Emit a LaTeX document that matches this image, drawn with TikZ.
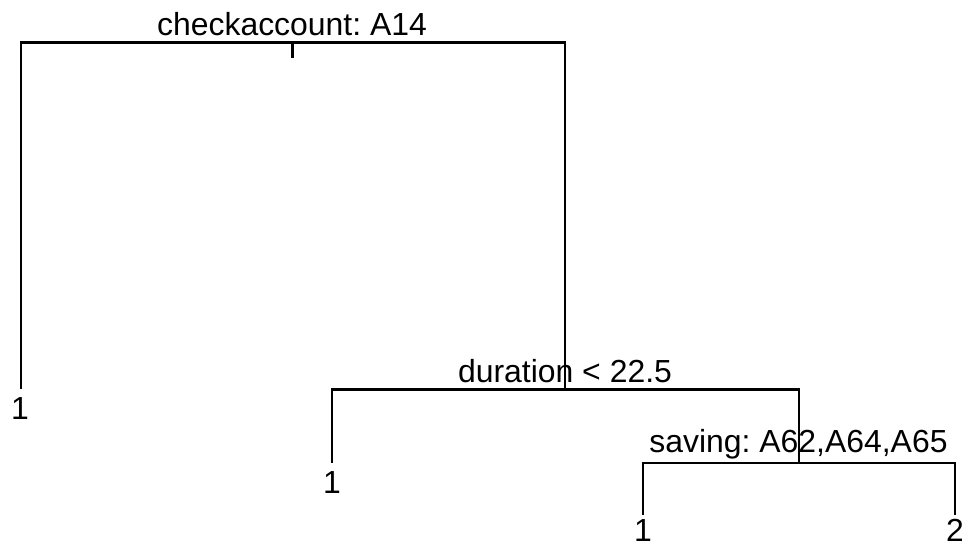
\documentclass[tikz,border=0pt]{standalone}
\usepackage{fontspec}
\setmainfont{Liberation Sans}
\frenchspacing
\begin{document}
\begin{tikzpicture}[x=0.025cm, y=-0.025cm,
  branch/.style={line width=1.5pt},
  lbl/.style={anchor=base, inner sep=0pt, font=\fontsize{22.7}{26}\selectfont}]
  \useasboundingbox (0,0) rectangle (962,546);

  % Split points and leaf tops
  \coordinate (root) at (292.5, 42.5);
  \coordinate (rootstub) at (292.5, 58);
  \coordinate (leafA) at (21, 389);
  \coordinate (dur) at (565, 389.5);
  \coordinate (leafB) at (332, 463);
  \coordinate (sav) at (799, 462.7);
  \coordinate (leafC) at (643, 515);
  \coordinate (leafD) at (955, 515);

  % Branches
  \draw[branch] (root) -- (rootstub);
  \draw[branch] (root) -| (leafA);
  \draw[branch] (root) -| (dur);
  \draw[branch] (dur) -| (leafB);
  \draw[branch] (dur) -| (sav);
  \draw[branch] (sav) -| (leafC);
  \draw[branch] (sav) -| (leafD);

  % Split labels
  \node[lbl] (rootlbl) at (292, 35) {checkaccount: A14};
  \node[lbl] (durlbl) at (565, 382) {duration < 22.5};
  \node[lbl] (savlbl) at (798.5, 452) {saving: A62,A64,A65};

  % Leaf labels
  \node[lbl] (leafAlbl) at (20, 419) {1};
  \node[lbl] (leafBlbl) at (332, 493) {1};
  \node[lbl] (leafClbl) at (643, 541) {1};
  \node[lbl] (leafDlbl) at (955, 541) {2};
\end{tikzpicture}
\end{document}
